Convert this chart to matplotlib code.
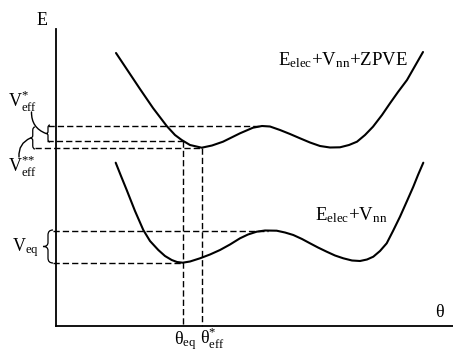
import matplotlib
matplotlib.use('Agg')
import matplotlib.pyplot as plt
from matplotlib.path import Path
from matplotlib.patches import PathPatch

plt.rcParams['mathtext.fontset'] = 'custom'
plt.rcParams['mathtext.rm'] = 'Liberation Serif'
plt.rcParams['mathtext.it'] = 'Liberation Serif:italic'
plt.rcParams['mathtext.bf'] = 'Liberation Serif:bold'
plt.rcParams['font.family'] = ['Liberation Serif', 'DejaVu Serif']

# ---- data (theta in arbitrary units, E in arbitrary units) ----
theta_upper = [116, 128, 140, 153, 166.7, 175, 181.7, 190, 201.7, 212, 223, 240, 253, 262,
               270, 280, 290, 300, 310, 320, 330, 340, 349, 357, 365, 373, 382, 390, 398,
               407, 415, 423]
E_upper = [273, 255, 237, 218, 200, 191, 186, 181, 178.3, 180.5, 184.3, 192.7, 198.3, 200,
           199.5, 196, 192, 187.7, 183.5, 180, 178.5, 178.7, 181, 184.3, 191, 199.3, 211,
           222.7, 234, 246, 260, 274]

theta_lower = [115.7, 121, 126.7, 135, 143.3, 150, 158.3, 165, 171.7, 177, 182.7, 190, 200,
               210, 220, 230, 240, 248, 256.7, 265, 276.7, 285, 293.3, 302, 310, 318, 326.7,
               335, 343.3, 352, 360, 367, 373.3, 380, 386.7, 393, 400, 407, 413.3, 418, 423.3]
E_lower = [163.3, 150, 136, 115, 96, 85, 76, 70, 66, 64, 63.3, 64.5, 67.7, 71.5, 76, 81.5,
           87.7, 91.5, 94.3, 95.5, 95.3, 93.5, 91, 87, 82.7, 78.5, 74.3, 70.5, 67.7, 65.5,
           65, 66.5, 69.3, 75, 82.7, 95, 109.3, 125, 139.3, 151, 163.3]

theta_eq = 182.7
theta_eff = 201.7
E_upper_max = 200
E_upper_at_eq = 185
E_upper_min = 178.3
E_lower_max = 95
E_lower_min = 63.3

label_upper = r'$\mathrm{E_{elec}{+}V_{nn}{+}ZPVE}$'
label_lower = r'$\mathrm{E_{elec}{+}V_{nn}}$'

# ---- figure ----
fig = plt.figure(figsize=(4.53, 3.53), dpi=100)
ax = fig.add_axes([56 / 453, 27 / 353, 397 / 453, 297 / 353])
ax.set_xlim(56, 453)
ax.set_ylim(0, 297)
for s in ('top', 'right'):
    ax.spines[s].set_visible(False)
for s in ('left', 'bottom'):
    ax.spines[s].set_linewidth(1.3)
ax.set_xticks([])
ax.set_yticks([])

ax.plot(theta_upper, E_upper, color='black', lw=1.5, solid_capstyle='round')
ax.plot(theta_lower, E_lower, color='black', lw=1.5, solid_capstyle='round')

dash = dict(color='black', lw=1.0, dashes=(4.5, 2.2), clip_on=False)
ax.plot([48, 262], [E_upper_max, E_upper_max], **dash)
ax.plot([47, theta_eq], [E_upper_at_eq, E_upper_at_eq], **dash)
ax.plot([35, theta_eff], [E_upper_min, E_upper_min], **dash)
ax.plot([53, 268], [E_lower_max, E_lower_max], **dash)
ax.plot([53, theta_eq], [E_lower_min, E_lower_min], **dash)
ax.plot([theta_eq, theta_eq], [E_upper_at_eq, 0], **dash)
ax.plot([theta_eff, theta_eff], [E_upper_min, 0], **dash)


def brace(xr, top, bot, w):
    h = top - bot
    ym = (top + bot) / 2
    xm = xr - w / 2
    verts = [(xr, top), (xm, top), (xm, top - 0.15 * h),
             (xm, ym + 0.12 * h),
             (xm, ym), (xr - w, ym),
             (xm, ym), (xm, ym - 0.12 * h),
             (xm, bot + 0.15 * h),
             (xm, bot), (xr, bot)]
    codes = [Path.MOVETO, Path.CURVE3, Path.CURVE3, Path.LINETO,
             Path.CURVE3, Path.CURVE3, Path.CURVE3, Path.CURVE3,
             Path.LINETO, Path.CURVE3, Path.CURVE3]
    ax.add_patch(PathPatch(Path(verts, codes), fill=False, lw=0.9,
                           edgecolor='black', clip_on=False))


brace(50, 201, 184, 4)
brace(35, 199, 177, 4.5)
brace(53, 96, 63, 10)

# leader lines
ax.annotate('', xy=(46, 192.5), xytext=(31.5, 214),
            arrowprops=dict(arrowstyle='-', lw=1.0, color='black',
                            connectionstyle='arc3,rad=0.35', shrinkA=0, shrinkB=0),
            annotation_clip=False)
ax.annotate('', xy=(30.5, 188), xytext=(19, 169),
            arrowprops=dict(arrowstyle='-', lw=1.0, color='black',
                            connectionstyle='arc3,rad=-0.35', shrinkA=0, shrinkB=0),
            annotation_clip=False)

# text
ax.text(37, 301, 'E', fontsize=13, ha='left', va='baseline')
ax.text(435, 9, 'θ', fontsize=13, ha='left', va='baseline')
ax.text(174, -18.5, r'$\mathrm{θ_{eq}}$', fontsize=13, ha='left', va='baseline')
ax.text(200, -18.5, r'$\mathrm{θ^{*}_{eff}}$', fontsize=13, ha='left', va='baseline')
ax.text(8, 219, r'$\mathrm{V^{*}_{eff}}$', fontsize=13, ha='left', va='baseline')
ax.text(8, 153.3, r'$\mathrm{V^{{*}{*}}_{eff}}$', fontsize=13, ha='left', va='baseline')
ax.text(12, 74.3, r'$\mathrm{V_{eq}}$', fontsize=13, ha='left', va='baseline')
ax.text(278, 261, label_upper, fontsize=13.5, ha='left', va='baseline')
ax.text(315, 106, label_lower, fontsize=13.5, ha='left', va='baseline')

fig.savefig('out.png', dpi=100)
